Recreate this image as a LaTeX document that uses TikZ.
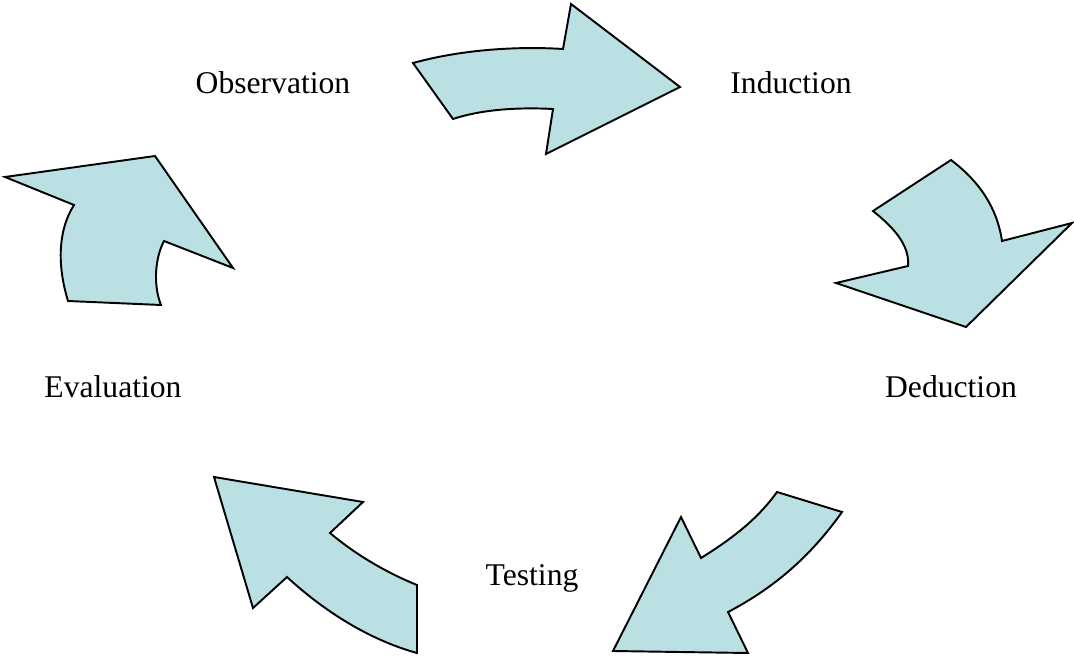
\documentclass[tikz,border=0pt]{standalone}
\usepackage{fontspec}
\setmainfont{Liberation Serif}
\usepackage{tikz}
\definecolor{arrowfill}{RGB}{187,224,227}

\begin{document}
\begin{tikzpicture}[x=0.02cm, y=-0.02cm, font=\fontsize{18}{22}\selectfont,
    bigarrow/.style={draw=black, fill=arrowfill, line width=1.1pt, line join=miter},
    label/.style={anchor=base, inner sep=0pt}
]
    \useasboundingbox (0,0) rectangle (1074,658);

    % stage names round the cycle
    \node[label] (obs) at (273,94)  {Observation};
    \node[label] (ind) at (791,94)  {Induction};
    \node[label] (ded) at (951,397) {Deduction};
    \node[label] (tst) at (532,585) {Testing};
    \node[label] (evl) at (113,397) {Evaluation};

    % curved block arrows between the stages
    \draw[bigarrow] (413,63) .. controls (460,50) and (515,46) .. (563,49)
        -- (571,4) -- (680,87) -- (546,154) -- (553,109)
        .. controls (515,107) and (480,110) .. (453,119) -- cycle;
    \draw[bigarrow] (951,160) -- (873,211)
        .. controls (893,227) and (910,245) .. (908,266)
        -- (836,283) -- (966,327) -- (1072,223) -- (1002,241)
        .. controls (997,208) and (980,182) .. (951,160) -- cycle;
    \draw[bigarrow] (777,492) -- (842,512)
        .. controls (808,560) and (770,590) .. (728,612)
        -- (748,653) -- (613,651) -- (681,517) -- (701,558)
        .. controls (730,540) and (757,520) .. (777,492) -- cycle;
    \draw[bigarrow] (214,477) -- (363,502) -- (330,533)
        .. controls (355,554) and (385,572) .. (417,585)
        -- (417,653)
        .. controls (370,640) and (325,612) .. (287,577)
        -- (253,608) -- cycle;
    \draw[bigarrow] (5,177) -- (155,156) -- (233,268) -- (164,241)
        .. controls (155,258) and (153,285) .. (161,305)
        -- (68,301)
        .. controls (57,265) and (58,230) .. (74,205) -- cycle;
\end{tikzpicture}
\end{document}
